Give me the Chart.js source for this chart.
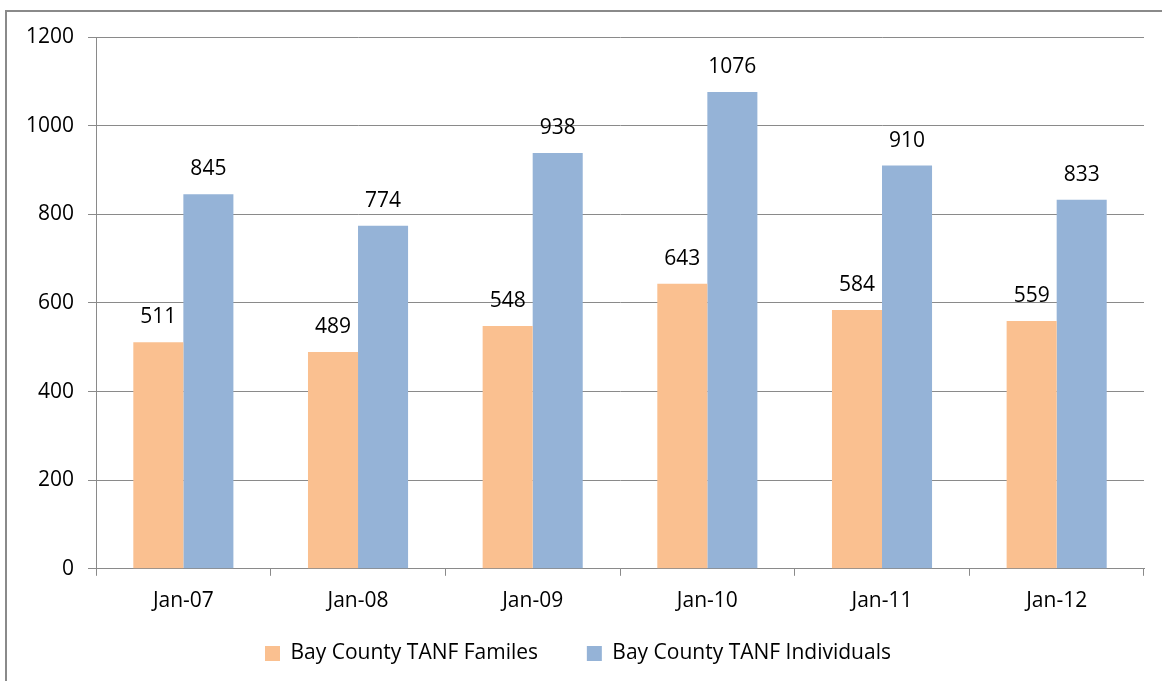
<!DOCTYPE html>
<html>
<head>
<meta charset="utf-8">
<script src="https://cdn.jsdelivr.net/npm/chart.js@4"></script>
<style>
  html, body { margin: 0; padding: 0; background: #fff; }
  #wrap { position: relative; width: 1162px; height: 681px; }
  #frame { position: absolute; left: 5px; top: 10px; right: -4px; bottom: -4px; border: 2px solid #8a8a8a; }
</style>
</head>
<body>
<div id="wrap">
  <div id="frame"></div>
  <canvas id="myChart" width="1162" height="681"></canvas>
</div>
<script>
const months = ['Jan-07', 'Jan-08', 'Jan-09', 'Jan-10', 'Jan-11', 'Jan-12'];
const families = [511, 489, 548, 643, 584, 559];
const individuals = [845, 774, 938, 1076, 910, 833];

const font = 'Open Sans, Noto Sans, sans-serif';

// values above each bar
const barValues = {
    id: 'barValues',
    afterDatasetsDraw(chart) {
        const ctx = chart.ctx;
        ctx.save();
        ctx.fillStyle = '#000';
        ctx.font = '21px ' + font;
        ctx.textAlign = 'center';
        ctx.textBaseline = 'middle';
        chart.data.datasets.forEach((ds, i) => {
            chart.getDatasetMeta(i).data.forEach((bar, j) => {
                ctx.fillText(ds.data[j], bar.x, bar.y - 25);
            });
        });
        ctx.restore();
    }
};

const data = {
    labels: months,
    datasets: [
        {
            label: 'Bay County TANF Familes',
            data: families,
            backgroundColor: 'rgb(250, 192, 144)',
            categoryPercentage: 0.573,
            barPercentage: 1
        },
        {
            label: 'Bay County TANF Individuals',
            data: individuals,
            backgroundColor: 'rgb(149, 179, 215)',
            categoryPercentage: 0.573,
            barPercentage: 1
        }
    ]
};

const config = {
    type: 'bar',
    data: data,
    plugins: [barValues],
    options: {
        responsive: false,
        animation: false,
        layout: { padding: { left: 12, right: 18, top: 37, bottom: 7 } },
        plugins: {
            tooltip: { enabled: false },
            legend: {
                position: 'bottom',
                labels: {
                    color: '#000',
                    font: { family: font, size: 21 },
                    boxWidth: 15,
                    boxHeight: 15,
                    padding: 16,
                    // wider gap between the two entries without making the legend taller
                    generateLabels(chart) {
                        const items = Chart.defaults.plugins.legend.labels.generateLabels(chart);
                        items[0].text += '\u00a0\u00a0\u00a0\u00a0\u00a0\u00a0';
                        return items;
                    }
                }
            }
        },
        scales: {
            x: {
                grid: {
                    offset: true,
                    drawOnChartArea: false,
                    color: '#8a8a8a',
                    tickLength: 7
                },
                border: { color: '#8a8a8a', width: 1 },
                ticks: { color: '#000', font: { family: font, size: 21 }, padding: 13 }
            },
            y: {
                min: 0,
                max: 1200,
                ticks: {
                    stepSize: 200,
                    color: '#000',
                    font: { family: font, size: 21 },
                    padding: 14,
                    callback: v => String(v)
                },
                grid: { color: '#8a8a8a', tickLength: 8 },
                border: { color: '#8a8a8a', width: 1 }
            }
        }
    }
};

new Chart(document.getElementById('myChart'), config);
</script>
</body>
</html>
